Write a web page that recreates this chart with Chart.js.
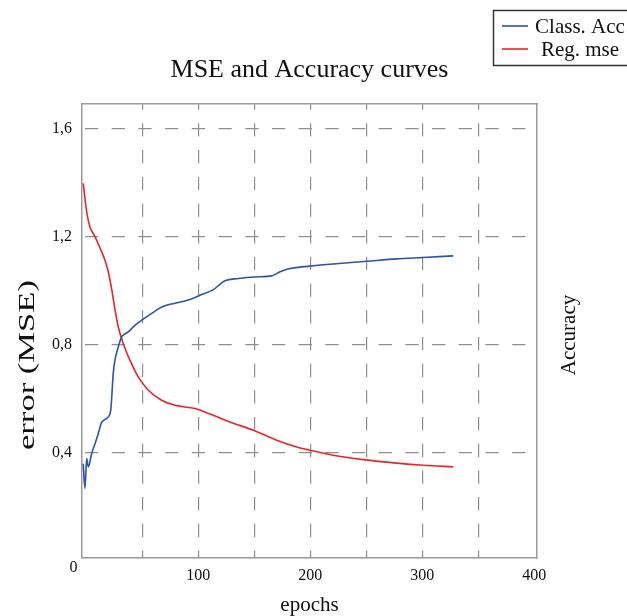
<!DOCTYPE html>
<html>
<head>
<meta charset="utf-8">
<title>MSE and Accuracy curves</title>
<script src="https://cdn.jsdelivr.net/npm/chart.js@4.4.0/dist/chart.umd.min.js"></script>
<style>
    html, body { margin: 0; padding: 0; background: #ffffff; }
    #wrap { width: 627px; height: 616px; position: relative; }
</style>
</head>
<body>
<div id="wrap"><canvas id="chart"></canvas></div>
<script>
// 數據
const accEpochs = [-2.7, -1.2, 0.4, 1.8, 4.8, 7.8, 10.7, 13.8, 19.6, 22, 24.1, 25.6, 28.6, 31.6, 37.5, 43.5, 49.5, 58.4, 67.3, 79.2, 91, 101.5, 113.4, 123.8, 135.7, 150.6, 165.5, 173, 181.9, 199.7, 217.6, 250.4, 277.1, 300.9, 327.7];
const accValues = [0.359, 0.267, 0.378, 0.347, 0.396, 0.433, 0.47, 0.513, 0.532, 0.563, 0.693, 0.742, 0.791, 0.828, 0.847, 0.871, 0.89, 0.915, 0.939, 0.953, 0.965, 0.982, 1.003, 1.036, 1.044, 1.05, 1.054, 1.069, 1.081, 1.09, 1.097, 1.108, 1.117, 1.122, 1.128];

const mseEpochs = [-2.7, 0.4, 3.3, 7.8, 12.2, 16.7, 19.6, 22.7, 25.6, 28.6, 33, 39, 46.4, 55.4, 67.3, 79.2, 97, 113.4, 128.3, 149.1, 170, 187.9, 202.7, 220.5, 247.3, 277.1, 300.9, 327.7];
const mseValues = [1.396, 1.29, 1.235, 1.199, 1.158, 1.112, 1.07, 1.005, 0.93, 0.865, 0.804, 0.742, 0.68, 0.631, 0.594, 0.575, 0.563, 0.538, 0.513, 0.483, 0.446, 0.421, 0.406, 0.39, 0.374, 0.361, 0.353, 0.347];

const seriesLabels = ['Class. Acc', 'Reg. mse'];
const seriesColors = ['#2c54a8', '#e8252b'];

const xTickValues = [50, 100, 150, 200, 250, 300, 350, 400];
const xTickLabels = ['', '100', '', '200', '', '300', '', '400'];
const yTickValues = [0.4, 0.8, 1.2, 1.6];
const yTickLabels = ['0,4', '0,8', '1,2', '1,6'];

const chartTitle = 'MSE and Accuracy curves';
const xTitle = 'epochs';
const yTitle = 'error (MSE)';
const y2Title = 'Accuracy';
const originLabel = '0';

const serif = "'Liberation Serif', 'DejaVu Serif', serif";
const axisGray = '#9a9a9a';
const gridGray = '#8f8f8f';
const textColor = '#111111';

/**
 * 把 x / y 陣列組成點
 */
function toPoints(xs, ys) {
    return xs.map((x, i) => ({ x: x, y: ys[i] }));
}

/**
 * 額外文字：原點 0、直立的軸標題
 */
const extraText = {
    id: 'extraText',
    afterDraw(chart) {
        const ctx = chart.ctx;
        const area = chart.chartArea;
        ctx.save();
        ctx.fillStyle = textColor;

        // 左下角的 0
        ctx.font = '16px ' + serif;
        ctx.textAlign = 'center';
        ctx.textBaseline = 'middle';
        ctx.fillText(originLabel, area.left - 8.5, area.bottom + 10);

        // 左側標題（原圖是被拉長的）
        ctx.save();
        ctx.translate(area.left - 48, 365);
        ctx.rotate(-Math.PI / 2);
        ctx.font = '23px ' + serif;
        const w = ctx.measureText(yTitle).width;
        ctx.scale(170 / w, 1);
        ctx.textAlign = 'center';
        ctx.textBaseline = 'alphabetic';
        ctx.fillText(yTitle, 0, 0);
        ctx.restore();

        // 右側標題
        ctx.save();
        ctx.translate(area.right + 38, (area.top + area.bottom) / 2 + 4);
        ctx.rotate(-Math.PI / 2);
        ctx.font = '21px ' + serif;
        ctx.textAlign = 'center';
        ctx.textBaseline = 'alphabetic';
        ctx.fillText(y2Title, 0, 0);
        ctx.restore();

        ctx.restore();
    }
};

/**
 * 右上角的圖例框
 */
const boxLegend = {
    id: 'boxLegend',
    afterDraw(chart) {
        const ctx = chart.ctx;
        ctx.save();
        ctx.fillStyle = '#ffffff';
        ctx.fillRect(493.5, 10.5, 200, 55);
        ctx.strokeStyle = '#333333';
        ctx.lineWidth = 1.5;
        ctx.strokeRect(493.5, 10.5, 200, 55);

        chart.data.datasets.forEach((ds, i) => {
            const y = 26 + i * 23;
            ctx.strokeStyle = ds.borderColor;
            ctx.lineWidth = 1.6;
            ctx.beginPath();
            ctx.moveTo(502, y);
            ctx.lineTo(528, y);
            ctx.stroke();

            ctx.fillStyle = textColor;
            ctx.font = '21px ' + serif;
            ctx.textAlign = 'center';
            ctx.textBaseline = 'middle';
            ctx.fillText(ds.label, 580, y + 1);
        });
        ctx.restore();
    }
};

const ctx = document.getElementById('chart').getContext('2d');
const chart = new Chart(ctx, {
    type: 'line',
    data: {
        datasets: [{
            label: seriesLabels[0],
            data: toPoints(accEpochs, accValues),
            borderColor: seriesColors[0],
            borderWidth: 1.6,
            pointRadius: 0,
            fill: false,
            cubicInterpolationMode: 'monotone'
        }, {
            label: seriesLabels[1],
            data: toPoints(mseEpochs, mseValues),
            borderColor: seriesColors[1],
            borderWidth: 1.6,
            pointRadius: 0,
            fill: false,
            cubicInterpolationMode: 'monotone'
        }]
    },
    options: {
        responsive: true,
        maintainAspectRatio: false,
        animation: false,
        layout: { padding: 0 },
        plugins: {
            legend: { display: false },
            tooltip: { enabled: false },
            title: {
                display: true,
                text: chartTitle,
                fullSize: false,
                color: textColor,
                font: { family: serif, size: 26, weight: 'normal', lineHeight: 1 },
                padding: { top: 57, bottom: 21 }
            }
        },
        scales: {
            x: {
                type: 'linear',
                position: 'bottom',
                min: -3.8,
                max: 402.4,
                afterBuildTicks: function(scale) {
                    scale.ticks = xTickValues.map(v => ({ value: v }));
                },
                afterFit: function(scale) {
                    scale.height = 58;
                },
                ticks: {
                    autoSkip: false,
                    maxRotation: 0,
                    padding: 8,
                    color: textColor,
                    font: { family: serif, size: 16 },
                    callback: function(value) {
                        const i = xTickValues.indexOf(value);
                        return i >= 0 ? xTickLabels[i] : '';
                    }
                },
                grid: {
                    drawTicks: false,
                    lineWidth: 1.2,
                    color: c => (c.tick && c.tick.value === 400) ? 'rgba(0,0,0,0)' : gridGray
                },
                border: { color: axisGray, width: 1.5, dash: [13.3, 13.4], dashOffset: 7.4 },
                title: {
                    display: true,
                    text: xTitle,
                    color: textColor,
                    font: { family: serif, size: 21, lineHeight: 1 },
                    padding: { top: 0, bottom: 0 }
                }
            },
            xTop: {
                type: 'linear',
                position: 'top',
                afterFit: function(scale) {
                    scale.height = 0;
                },
                ticks: { display: false },
                grid: { display: false },
                border: { color: axisGray, width: 1.5 }
            },
            y: {
                type: 'linear',
                position: 'left',
                min: 0.01,
                max: 1.69,
                afterBuildTicks: function(scale) {
                    scale.ticks = yTickValues.map(v => ({ value: v }));
                },
                afterFit: function(scale) {
                    scale.width = 82;
                },
                ticks: {
                    padding: 10,
                    color: textColor,
                    font: { family: serif, size: 16 },
                    callback: function(value) {
                        const i = yTickValues.indexOf(value);
                        return i >= 0 ? yTickLabels[i] : '';
                    }
                },
                grid: {
                    drawTicks: false,
                    lineWidth: 1.2,
                    color: gridGray
                },
                border: { color: axisGray, width: 1.5, dash: [13.3, 13.4], dashOffset: 24.2 }
            },
            yRight: {
                type: 'linear',
                position: 'right',
                afterFit: function(scale) {
                    scale.width = 90;
                },
                ticks: { display: false },
                grid: { display: false },
                border: { color: axisGray, width: 1.5 }
            }
        }
    },
    plugins: [extraText, boxLegend]
});
</script>
</body>
</html>
